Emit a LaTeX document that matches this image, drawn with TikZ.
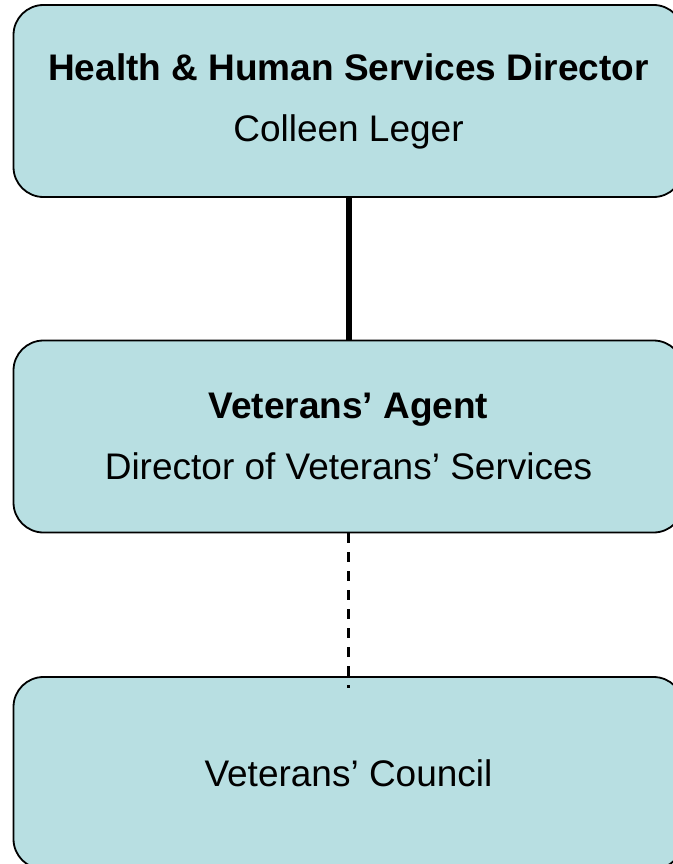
\documentclass[tikz,border=0pt]{standalone}
\usepackage{fontspec}
\setmainfont{Liberation Sans}
\usetikzlibrary{positioning}
\definecolor{boxfill}{RGB}{184,223,226}

\begin{document}
\begin{tikzpicture}[x=1pt, y=-1pt,
    orgbox/.style={draw, line width=1.8pt, rounded corners=30pt, fill=boxfill, align=center,
        minimum width=670pt, minimum height=192pt, inner sep=0pt, font=\fontsize{37}{61}\selectfont},
    solidlink/.style={line width=6pt},
    dashlink/.style={line width=2.5pt, dash pattern=on 10pt off 9pt}
]
    \useasboundingbox (0,0) rectangle (672,864);
    \node[orgbox] (hhs) at (348.5,101) {\textbf{Health \& Human Services Director}\\Colleen Leger};
    \node[orgbox] (agent) at (348.5,436.5) {\textbf{Veterans’ Agent}\\Director of Veterans’ Services};
    \node[orgbox] (council) at (348.5,773) {Veterans’ Council};

    \draw[solidlink] (hhs.south) -- (agent.north);
    \draw[dashlink] (agent.south) -- ([yshift=-12pt]council.north);
\end{tikzpicture}
\end{document}
